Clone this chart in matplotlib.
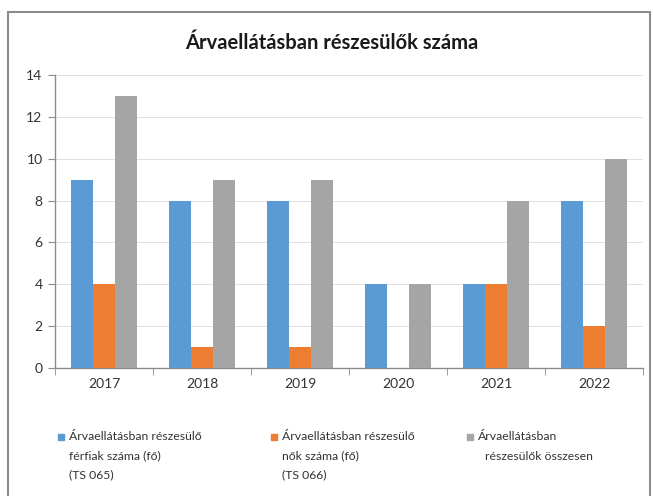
import matplotlib.pyplot as plt
from matplotlib.patches import Rectangle
import numpy as np

plt.rcParams['font.family'] = ['Lato', 'DejaVu Sans']

YEARS = ["2017", "2018", "2019", "2020", "2021", "2022"]
FERFI = [9, 8, 8, 4, 4, 8]
NO = [4, 1, 1, 0, 4, 2]
OSSZES = [13, 9, 9, 4, 8, 10]
TITLE = "Árvaellátásban részesülők száma"
LABELS = [
    ["Árvaellátásban részesülő", "férfiak száma (fő)", "(TS 065)"],
    ["Árvaellátásban részesülő", "nők száma (fő)", "(TS 066)"],
    ["Árvaellátásban", "részesülők összesen"],
]
COLORS = ["#5B9BD5", "#ED7D31", "#A5A5A5"]

W, H = 654, 496
fig = plt.figure(figsize=(W / 100, H / 100), dpi=100)
ax = fig.add_axes([55 / W, 1 - 368 / H, (643 - 55) / W, (368 - 75) / H])

x = np.arange(len(YEARS))
bw = 0.224
for i, vals in enumerate([FERFI, NO, OSSZES]):
    ax.bar(x + (i - 1) * bw, vals, width=bw, color=COLORS[i], zorder=3)

ax.set_xlim(-0.5, len(YEARS) - 0.5)
ax.set_ylim(0, 14)
ax.set_yticks(range(0, 15, 2))
ax.set_xticks(x)
ax.set_xticklabels(YEARS)
ax.set_xticks(np.arange(-0.5, len(YEARS), 1), minor=True)
ax.tick_params(axis='x', which='major', length=0, pad=7, labelsize=10, labelcolor="#333333")
ax.tick_params(axis='x', which='minor', length=5, color="#8c8c8c", direction='out')
ax.tick_params(axis='y', length=5, color="#8c8c8c", labelsize=10, labelcolor="#333333", pad=4)
ax.grid(axis='y', color="#e0e0e0", linewidth=0.7, zorder=0)
for s in ["top", "right"]:
    ax.spines[s].set_visible(False)
for s in ["left", "bottom"]:
    ax.spines[s].set_color("#8c8c8c")
    ax.spines[s].set_linewidth(1.0)

fig.text(332 / W, 1 - 43 / H, TITLE, ha='center', va='center',
         fontsize=14.5, fontweight='bold', color="#1a1a1a")

# legend
lx = [58, 271, 467]
for i, lines in enumerate(LABELS):
    fig.patches.append(Rectangle(((lx[i]) / W, 1 - 440 / H), 6 / W, 6 / H,
                                 transform=fig.transFigure, color=COLORS[i]))
    for j, line in enumerate(lines):
        off = 7 if (i == 2 and j == 1) else 0
        fig.text((lx[i] + 11 + off) / W, 1 - (437 + 19 * j) / H, line,
                 ha='left', va='center', fontsize=8.8, color="#333333")

# chart frame
fig.patches.append(Rectangle((8 / W, -0.01), (650 - 8) / W, 1 - 12 / H + 0.01,
                             transform=fig.transFigure, fill=False,
                             edgecolor="#8c8c8c", linewidth=1.5))

fig.savefig("out.png", dpi=100)
